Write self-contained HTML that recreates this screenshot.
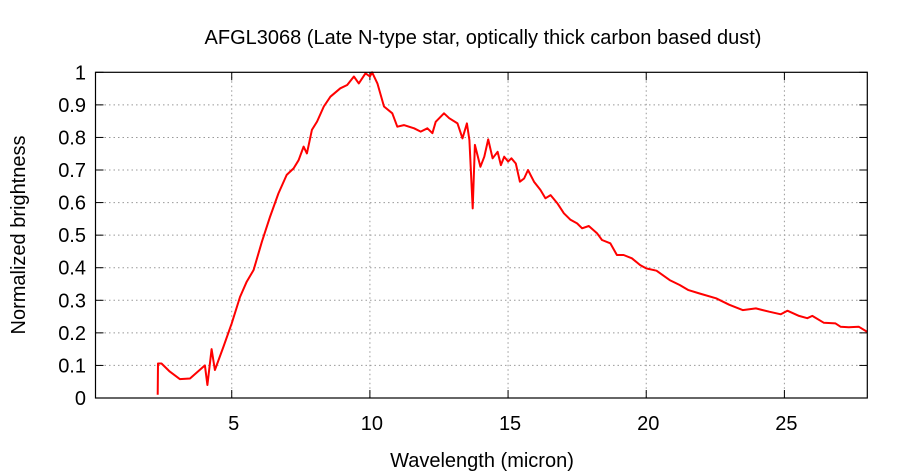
<!DOCTYPE html>
<html><head><meta charset="utf-8"><style>
body{margin:0;background:#fff}
svg{display:block;font-family:"Liberation Sans",Arial,sans-serif}
</style></head><body>
<svg id="c" width="900" height="475">
<text x="483" y="44" text-anchor="middle" font-size="20">AFGL3068 (Late N-type star, optically thick carbon based dust)</text>
<text x="482" y="467" text-anchor="middle" font-size="20">Wavelength (micron)</text>
<text transform="translate(25,235) rotate(-90)" text-anchor="middle" font-size="20">Normalized brightness</text>
<g id="grid"></g>
<g id="ticks"></g>
<path id="line" fill="none" stroke="#ff0000" stroke-width="2" stroke-linejoin="round"></path>
<rect x="95.5" y="72.3" width="771.8" height="325.7" fill="none" stroke="#000" stroke-width="1.2"></rect>
</svg>
<script>
const xTicks=[5,10,15,20,25];
const yTicks=[0,0.1,0.2,0.3,0.4,0.5,0.6,0.7,0.8,0.9,1];
const yTickLabels=["0","0.1","0.2","0.3","0.4","0.5","0.6","0.7","0.8","0.9","1"];
const wavelength=[2.32,2.33,2.46,2.76,3.12,3.49,4.03,4.12,4.27,4.39,4.70,5.0,5.30,5.54,5.79,6.09,6.39,6.69,6.99,7.24,7.42,7.60,7.72,7.90,8.09,8.33,8.57,8.93,9.18,9.42,9.60,9.84,10.0,10.08,10.27,10.51,10.81,10.99,11.23,11.6,11.84,12.08,12.26,12.38,12.68,12.87,13.17,13.35,13.51,13.6,13.72,13.80,14.0,14.14,14.28,14.44,14.62,14.74,14.86,15.0,15.12,15.28,15.43,15.58,15.72,15.94,16.17,16.35,16.54,16.78,17.02,17.26,17.5,17.68,17.92,18.22,18.4,18.7,18.94,19.18,19.48,19.78,20.0,20.37,20.85,21.21,21.51,21.93,22.53,23.01,23.49,23.97,24.45,24.87,25.11,25.53,25.83,26.01,26.43,26.85,27.03,27.33,27.69,28.0];
const brightness=[0.01,0.106,0.106,0.081,0.058,0.06,0.10,0.04,0.15,0.086,0.157,0.229,0.31,0.357,0.393,0.48,0.557,0.628,0.685,0.705,0.73,0.772,0.751,0.823,0.849,0.895,0.925,0.951,0.961,0.987,0.966,0.997,0.987,1.0,0.966,0.895,0.874,0.833,0.838,0.828,0.818,0.828,0.813,0.848,0.874,0.859,0.843,0.797,0.843,0.792,0.582,0.777,0.71,0.741,0.794,0.736,0.756,0.715,0.741,0.726,0.736,0.72,0.664,0.674,0.7,0.664,0.639,0.613,0.623,0.598,0.567,0.547,0.536,0.521,0.528,0.506,0.485,0.475,0.439,0.439,0.429,0.408,0.398,0.391,0.362,0.347,0.332,0.321,0.306,0.286,0.27,0.275,0.265,0.257,0.268,0.252,0.245,0.252,0.231,0.229,0.219,0.217,0.219,0.203];
const L=95.5,R=867.3,T=72.3,B=398,X0=0.07,X1=28;
const sx=v=>L+(v-X0)/(X1-X0)*(R-L);
const sy=v=>B-v*(B-T);
const NS="http://www.w3.org/2000/svg";
const grid=document.getElementById('grid'),ticks=document.getElementById('ticks');
function mk(p,tag,a){const e=document.createElementNS(NS,tag);for(const k in a)e.setAttribute(k,a[k]);p.appendChild(e);return e;}
xTicks.forEach(v=>{const x=sx(v);
 const g=mk(grid,'line',{x1:x,x2:x,y1:T,y2:B,stroke:'#999','stroke-dasharray':'1.5,3'});
 
 
 mk(ticks,'line',{x1:x,x2:x,y1:B,y2:B-8,stroke:'#000'});
 mk(ticks,'line',{x1:x,x2:x,y1:T,y2:T+8,stroke:'#000'});
 const t=mk(ticks,'text',{x:x+2,y:430,'text-anchor':'middle','font-size':20});t.textContent=v;
 
 
});
yTicks.forEach((v,i)=>{const y=sy(v);
 if(v>0&&v<1){const g=mk(grid,'line',{x1:L,x2:R,y1:y,y2:y,stroke:'#999','stroke-dasharray':'1.5,3'});
 
 }
 mk(ticks,'line',{x1:L,x2:L+8,y1:y,y2:y,stroke:'#000'});
 mk(ticks,'line',{x1:R,x2:R-8,y1:y,y2:y,stroke:'#000'});
 const t=mk(ticks,'text',{x:86,y:y+7,'text-anchor':'end','font-size':20});t.textContent=yTickLabels[i];
 
 
});
document.getElementById('line').setAttribute('d',wavelength.map((w,i)=>(i?'L':'M')+sx(w).toFixed(1)+','+sy(brightness[i]).toFixed(1)).join(''));
</script>
</body></html>
